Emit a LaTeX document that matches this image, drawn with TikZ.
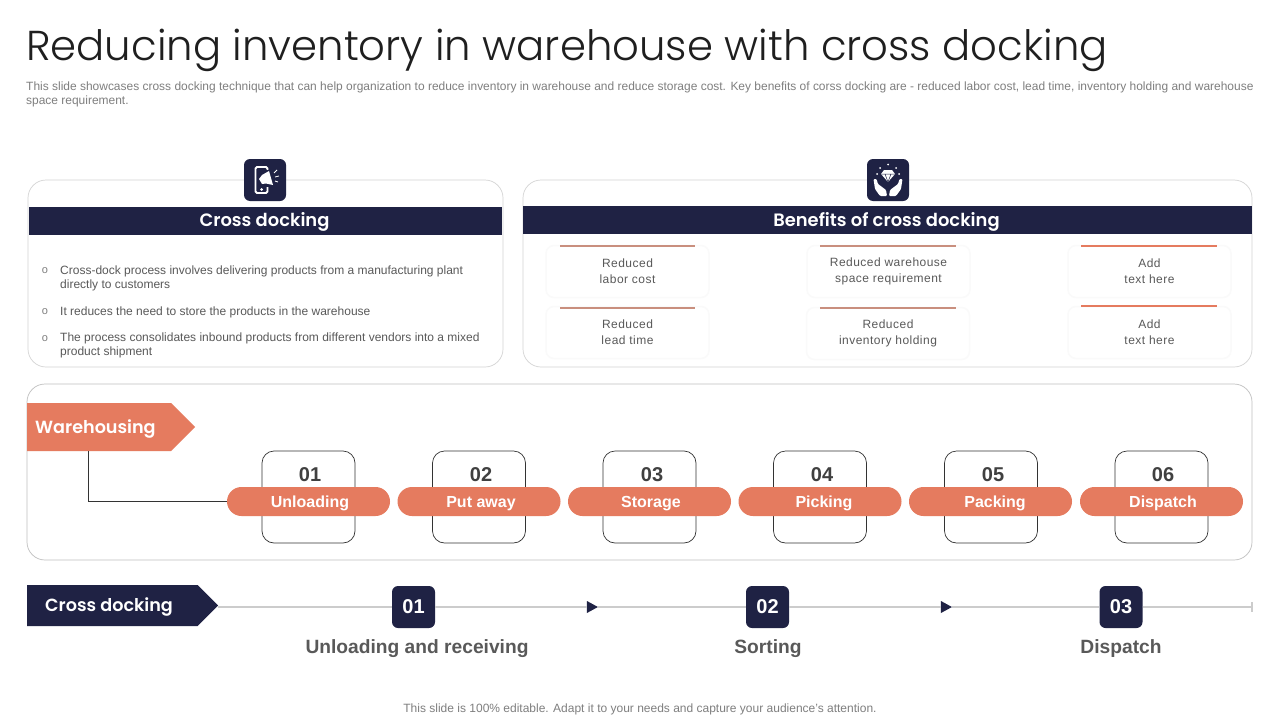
\documentclass[tikz,border=0pt]{standalone}
\usepackage{xcolor}
\usepackage{fontspec}
\usepackage{tikz}
\usetikzlibrary{shapes,shapes.symbols,shapes.geometric,arrows.meta,positioning}
\setmainfont{Liberation Sans}
\newfontfamily\titlefont{Poppins Light}
\newfontfamily\headfont{Poppins SemiBold}
\newfontfamily\cardfont[LetterSpace=4]{Liberation Sans}
\definecolor{navy}{RGB}{31,34,68}
\definecolor{coral}{RGB}{229,123,95}
\definecolor{dusty}{RGB}{201,143,126}
\definecolor{panelline}{RGB}{212,212,212}
\definecolor{bodygray}{RGB}{89,89,89}
\definecolor{notegray}{RGB}{127,127,127}
\newcommand{\pxfont}[2]{\fontsize{#1}{#2}\selectfont}

\begin{document}
\begin{tikzpicture}[x=1pt, y=-1pt]
    \tikzstyle{panel}=[draw=panelline, line width=0.7pt, rounded corners=18pt, fill=white]
    \tikzstyle{iconbox}=[fill=navy, rounded corners=6pt, minimum width=42pt, minimum height=42pt, inner sep=0pt]
    \tikzstyle{band}=[fill=navy, minimum height=28pt, inner sep=0pt]
    \tikzstyle{bandlabel}=[inner sep=0pt, text=white, font=\headfont\pxfont{17.9}{22}]
    \tikzstyle{bullet}=[text=notegray, inner sep=0pt, font=\pxfont{11}{14}]
    \tikzstyle{point}=[text=bodygray, anchor=west, align=left, inner sep=0pt, font=\pxfont{12}{14}]
    \tikzstyle{card}=[draw=black!2, line width=1.5pt, fill=white, rounded corners=8pt, minimum width=163pt,
      minimum height=52pt, inner sep=0pt, align=center, text=bodygray, font=\cardfont\pxfont{12}{16}]
    \tikzstyle{stepcard}=[draw=black!80, line width=0.7pt, rounded corners=12pt, minimum width=93pt, minimum height=92pt]
    \tikzstyle{pill}=[fill=coral, rounded corners=14.5pt, minimum width=163pt, minimum height=29pt, inner sep=0pt]
    \tikzstyle{pilltext}=[inner sep=0pt, text height=12pt, text depth=3pt, text=white, font=\bfseries\pxfont{16}{18}]
    \tikzstyle{stepnum}=[inner sep=0pt, text=black!75, font=\bfseries\pxfont{20}{22}]
    \tikzstyle{tag}=[signal, signal to=east, signal pointer angle=90, inner sep=0pt, anchor=west]
    \tikzstyle{taglabel}=[anchor=west, inner sep=0pt, text=white, font=\headfont\pxfont{17.6}{22}]
    \tikzstyle{numbox}=[fill=navy, rounded corners=6pt, minimum width=43pt, minimum height=42pt, inner sep=0pt,
      text=white, font=\bfseries\pxfont{20}{22}]
    \tikzstyle{stage}=[inner sep=0pt, text=bodygray, font=\bfseries\pxfont{19.2}{22}]
    \tikzstyle{marker}=[isosceles triangle, isosceles triangle stretches, fill=navy, inner sep=0pt,
      minimum width=12pt, minimum height=11pt]
    \tikzstyle{timeline}=[draw=black!20, line width=1.1pt]
    \tikzstyle{iconline}=[draw=white, line width=1.8pt]

    \useasboundingbox (0,0) rectangle (1280,720);
    \fill[white] (0,0) rectangle (1280,720);

    % heading
    \node[anchor=west, inner sep=0pt, text=black!88, font=\titlefont\pxfont{41.8}{50}] (title) at (26,50)
      {Reducing inventory in warehouse with cross docking};
    \node[anchor=north west, align=left, inner sep=0pt, text=notegray, font=\pxfont{11.97}{14}] (intro) at (26,82)
      {This slide showcases cross docking technique that can help organization to reduce inventory in warehouse and reduce storage cost. Key benefits of corss docking are - reduced labor cost, lead time, inventory holding and warehouse\\
       space requirement.};

    % left panel
    \draw[panel] (28,180) rectangle (503,367);
    \node[band, minimum width=473pt] (crosshead) at (265.5,220.5) {};
    \node[bandlabel] (crosstitle) at (264.5,222) {Cross docking};
    \node[iconbox] (phoneicon) at (265,180) {};
    \draw[iconline, rounded corners=1.5pt] (255.5,167) rectangle (267.5,193);
    \fill[white] (261.5,189.5) circle (1.5pt);
    \fill[navy] (259,170) rectangle (272,187);
    \fill[white] (259,179) -- (262,175) -- (269,171) -- (273,185) -- (266,183.5) -- (262,184) -- cycle;
    \draw[white, line width=0.8pt] (274,173) -- (277,170) (275,177) -- (279,176) (275,181) -- (278,182);

    \node[bullet] (dot1) at (45,270.5) {o};
    \node[point] (point1) at (60,278) {Cross-dock process involves delivering products from a manufacturing plant\\directly to customers};
    \node[bullet] (dot2) at (45,311.5) {o};
    \node[point] (point2) at (60,312) {It reduces the need to store the products in the warehouse};
    \node[bullet] (dot3) at (45,338.5) {o};
    \node[point] (point3) at (60,345.5) {The process consolidates inbound products from different vendors into a mixed\\product shipment};

    % right panel
    \draw[panel] (523,180) rectangle (1252,367);
    \node[band, minimum width=729pt] (benefithead) at (887.5,220) {};
    \node[bandlabel] (benefittitle) at (886.5,222) {Benefits of cross docking};
    \node[iconbox] (gemicon) at (888,180) {};
    \fill[white] (881,174) -- (884,170) -- (892,170) -- (895,174) -- (888,182) -- cycle;
    \draw[navy, line width=0.5pt] (881,174) -- (895,174) (885,174) -- (888,182) -- (891,174);
    \fill[white] (880,168) circle (1pt) (888,164.5) circle (1pt) (896,168) circle (1pt) (877,174) circle (1pt) (899,174) circle (1pt);
    \fill[white, rounded corners=1pt] (873.5,179) -- (876.5,179) -- (878,184) -- (886,190) -- (887,196) -- (880,196) -- (875,189) -- cycle;
    \fill[white, rounded corners=1pt] (902.5,179) -- (899.5,179) -- (898,184) -- (890,190) -- (889,196) -- (896,196) -- (901,189) -- cycle;

    \node[card] (labor) at (627.5,271.5) {Reduced\\labor cost};
    \node[card] (space) at (888.5,271.5) {Reduced warehouse\\space requirement};
    \node[card] (addone) at (1149.5,271.5) {Add\\text here};
    \node[card] (lead) at (627.5,332.5) {Reduced\\lead time};
    \node[card] (holding) at (888,333.5) {Reduced\\inventory holding};
    \node[card] (addtwo) at (1149.5,332.5) {Add\\text here};
    \fill[dusty] (560,244.5) rectangle (695,246.5);
    \fill[dusty] (820,244.5) rectangle (956,246.5);
    \fill[coral] (1081,244.5) rectangle (1217,246.5);
    \fill[dusty] (560,306.5) rectangle (695,308.5);
    \fill[dusty] (820,306.5) rectangle (956,308.5);
    \fill[coral] (1081,304.5) rectangle (1217,306.5);

    % warehousing panel
    \draw[panel, draw=black!25] (27,384) rectangle (1252,560);
    \node[tag, fill=coral, minimum width=168pt, minimum height=48pt] (warehousing) at (27,427) {};
    \node[taglabel] (warehousinglabel) at (35,429) {Warehousing};

    \node[stepcard] (card1) at (308.5,497) {};
    \node[stepcard] (card2) at (479,497) {};
    \node[stepcard] (card3) at (649.5,497) {};
    \node[stepcard] (card4) at (820,497) {};
    \node[stepcard] (card5) at (991,497) {};
    \node[stepcard] (card6) at (1161.5,497) {};
    \node[stepnum] (num1) at (310,474.5) {01};
    \node[stepnum] (num2) at (481,474.5) {02};
    \node[stepnum] (num3) at (652,474.5) {03};
    \node[stepnum] (num4) at (822,474.5) {04};
    \node[stepnum] (num5) at (993,474.5) {05};
    \node[stepnum] (num6) at (1163,474.5) {06};
    \node[pill] (pill1) at (308.5,501.5) {};
    \node[pill] (pill2) at (479,501.5) {};
    \node[pill] (pill3) at (649.5,501.5) {};
    \node[pill] (pill4) at (820,501.5) {};
    \node[pill] (pill5) at (990.5,501.5) {};
    \node[pill] (pill6) at (1161.5,501.5) {};
    \node[pilltext] (unloading) at (310,503) {Unloading};
    \node[pilltext] (putaway) at (481,503) {Put away};
    \node[pilltext] (storage) at (651,503) {Storage};
    \node[pilltext] (picking) at (824,503) {Picking};
    \node[pilltext] (packing) at (995,503) {Packing};
    \node[pilltext] (dispatch) at (1163,503) {Dispatch};

    \coordinate (drop) at (88,451);
    \draw[black!80, line width=0.8pt] (drop) |- (pill1.west);

    % cross docking line
    \node[tag, fill=navy, minimum width=191pt, minimum height=41pt] (crosstag) at (27,605.5) {};
    \node[taglabel] (crosslabel) at (45,607) {Cross docking};
    \node[numbox] (box1) at (413.5,607) {01};
    \node[numbox] (box2) at (767.5,607) {02};
    \node[numbox] (box3) at (1121,607) {03};
    \node[marker] (mark1) at (590.5,607) {};
    \node[marker] (mark2) at (944.5,607) {};
    \coordinate (lineend) at (1252,607);
    \draw[timeline] (crosstag.east |- box1) -- (box1);
    \draw[timeline] (box1) -- (mark1);
    \draw[timeline] (mark1) -- (box2);
    \draw[timeline] (box2) -- (mark2);
    \draw[timeline] (mark2) -- (box3);
    \draw[timeline] (box3) -- (lineend);
    \draw[timeline] (1252,602) -- (1252,612);
    \node[stage] (receiving) at (417,648.5) {Unloading and receiving};
    \node[stage] (sorting) at (768,648.5) {Sorting};
    \node[stage] (dispatching) at (1121,648.5) {Dispatch};

    \node[inner sep=0pt, text=notegray, font=\pxfont{12}{14}] (footnote) at (640,709.5)
      {This slide is 100\% editable. Adapt it to your needs and capture your audience's attention.};
  \end{tikzpicture}
\end{document}
